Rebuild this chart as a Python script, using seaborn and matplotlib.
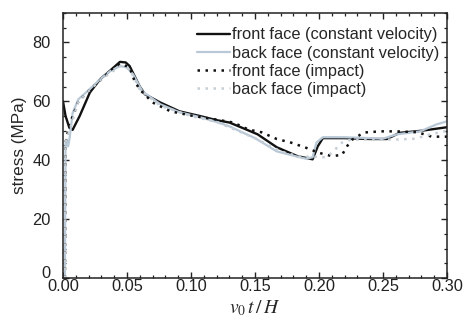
import matplotlib
matplotlib.use("Agg")
import matplotlib.pyplot as plt
import matplotlib.transforms as mtransforms
import seaborn as sns
import pandas as pd
from matplotlib.ticker import MultipleLocator

# ---- data ----
front_cv_x = [0.0, 0.002, 0.005, 0.0075, 0.013, 0.021, 0.029, 0.037, 0.0445, 0.049, 0.052, 0.056, 0.06, 0.064, 0.076, 0.091, 0.107,
              0.12, 0.13, 0.14, 0.152, 0.167, 0.183, 0.195, 0.199, 0.203, 0.22, 0.24, 0.253, 0.263, 0.28, 0.30]
front_cv_y = [60, 55, 51, 50.3, 55, 63, 67.5, 70.5, 73.4, 73.2, 72, 68.5, 65, 62.4, 59.6, 56.6, 55,
              53.6, 52.8, 51, 48.8, 44.4, 41.4, 40.3, 44.7, 47.5, 47.5, 47.2, 47.2, 49.3, 50, 51.2]

back_cv_x = [0.0015, 0.002, 0.003, 0.004, 0.005, 0.006, 0.0075, 0.012, 0.019, 0.029, 0.037, 0.0445, 0.05, 0.055, 0.062, 0.076, 0.091, 0.107,
             0.12, 0.13, 0.15, 0.167, 0.185, 0.19, 0.195, 0.198, 0.203, 0.22, 0.24, 0.25, 0.261, 0.279, 0.292, 0.30]
back_cv_y = [0, 46, 47, 44.7, 47, 50.5, 56, 60.7, 63.4, 67.5, 70.3, 72, 71.5, 69, 63.4, 59, 56.3, 54.6,
             53, 51.5, 47.5, 43, 41, 40.5, 41, 46, 47.8, 47.8, 47.5, 47.3, 48.8, 49.8, 52.2, 53.2]

front_imp_x = [0.0015, 0.002, 0.005, 0.012, 0.02, 0.03, 0.037, 0.045, 0.052, 0.056, 0.06, 0.07, 0.084, 0.102, 0.12, 0.133, 0.145,
               0.155, 0.167, 0.178, 0.19, 0.2, 0.21, 0.218, 0.222, 0.226, 0.235, 0.248, 0.26, 0.277, 0.288, 0.30]
front_imp_y = [0, 46, 52, 60, 63.5, 67.5, 70.3, 72.8, 71.5, 66.8, 64, 59.6, 56.6, 55, 53.8, 52.8, 50.4,
               49.5, 47.2, 46, 44.2, 42.5, 41.4, 41.8, 44.8, 47, 49.4, 49.8, 49.8, 49.5, 48, 48]

back_imp_x = [0.0015, 0.002, 0.005, 0.012, 0.02, 0.03, 0.045, 0.052, 0.06, 0.076, 0.1, 0.12, 0.15, 0.17, 0.185,
              0.195, 0.205, 0.21, 0.218, 0.225, 0.24, 0.26, 0.275, 0.287, 0.30]
back_imp_y = [0, 46, 50, 60, 63.5, 67.5, 72, 71, 64, 58.5, 55, 53, 47.5, 43, 41.2,
              41.2, 41, 42.5, 46, 47, 47, 47, 47.3, 48.8, 50]

labels = ["front face (constant velocity)", "back face (constant velocity)",
          "front face (impact)", "back face (impact)"]
xtick_labels = ["0.00", "0.05", "0.10", "0.15", "0.20", "0.25", "0.30"]

frames = []
for lab, xs, ys in zip(labels, [front_cv_x, back_cv_x, front_imp_x, back_imp_x],
                       [front_cv_y, back_cv_y, front_imp_y, back_imp_y]):
    frames.append(pd.DataFrame({"x": xs, "y": ys, "series": lab}))
df = pd.concat(frames, ignore_index=True)

sns.set_style("ticks")
plt.rcParams["font.family"] = ["Liberation Sans", "DejaVu Sans"]
plt.rcParams["mathtext.fontset"] = "stix"

fig = plt.figure(figsize=(4.67, 3.33), dpi=100)
ax = fig.add_axes([0.1349, 0.1652, 0.8223, 0.7958])

palette = {labels[0]: "#111111", labels[1]: "#b8c8d6",
           labels[2]: "#111111", labels[3]: "#c6ced6"}
dashes = {labels[0]: "", labels[1]: "", labels[2]: (1, 2.2), labels[3]: (1, 2.2)}
widths = [1.7, 1.6, 1.8, 1.8]
sns.lineplot(data=df, x="x", y="y", hue="series", style="series", palette=palette,
             dashes=dashes, sort=False, estimator=None, ax=ax, linewidth=1.6, legend=True)
for line, lw in zip(ax.get_lines()[:4], widths):
    line.set_linewidth(lw)

ax.set_xlim(0, 0.30)
ax.set_ylim(0, 90)
ax.set_xticks([0, 0.05, 0.10, 0.15, 0.20, 0.25, 0.30])
ax.set_xticklabels(xtick_labels)
ax.xaxis.set_minor_locator(MultipleLocator(0.01))
ax.yaxis.set_major_locator(MultipleLocator(20))
ax.yaxis.set_minor_locator(MultipleLocator(5))
ax.tick_params(which="both", direction="in", top=True, right=True, labelsize=11.8, colors="#222222")
ax.tick_params(which="major", length=4.5, width=1)
ax.tick_params(which="minor", length=2.5, width=0.9)
ax.tick_params(axis="x", which="major", pad=0.5)
ax.tick_params(axis="y", which="major", pad=9)
for s in ax.spines.values():
    s.set_linewidth(1.1)
    s.set_color("#222222")

# lift the "0" y tick label slightly, as in the reference
fig.canvas.draw()
for lbl in ax.get_yticklabels():
    if lbl.get_text() == "0":
        lbl.set_transform(lbl.get_transform() +
                          mtransforms.ScaledTranslation(0, 4 / 72, fig.dpi_scale_trans))

ax.set_xlabel(r"$v_0\,t\,/\,H$", fontsize=14, labelpad=3)
ax.set_ylabel("stress (MPa)", fontsize=12.3, labelpad=4)

leg = ax.legend(loc="upper right", bbox_to_anchor=(1.0, 0.977), frameon=False, fontsize=11.8,
                handlelength=2.0, handletextpad=0.1, labelspacing=0.2, borderaxespad=0.2,
                borderpad=0.3)
for h, lw in zip(leg.get_lines(), widths):
    h.set_linewidth(lw)

fig.savefig("out.png", dpi=100)
